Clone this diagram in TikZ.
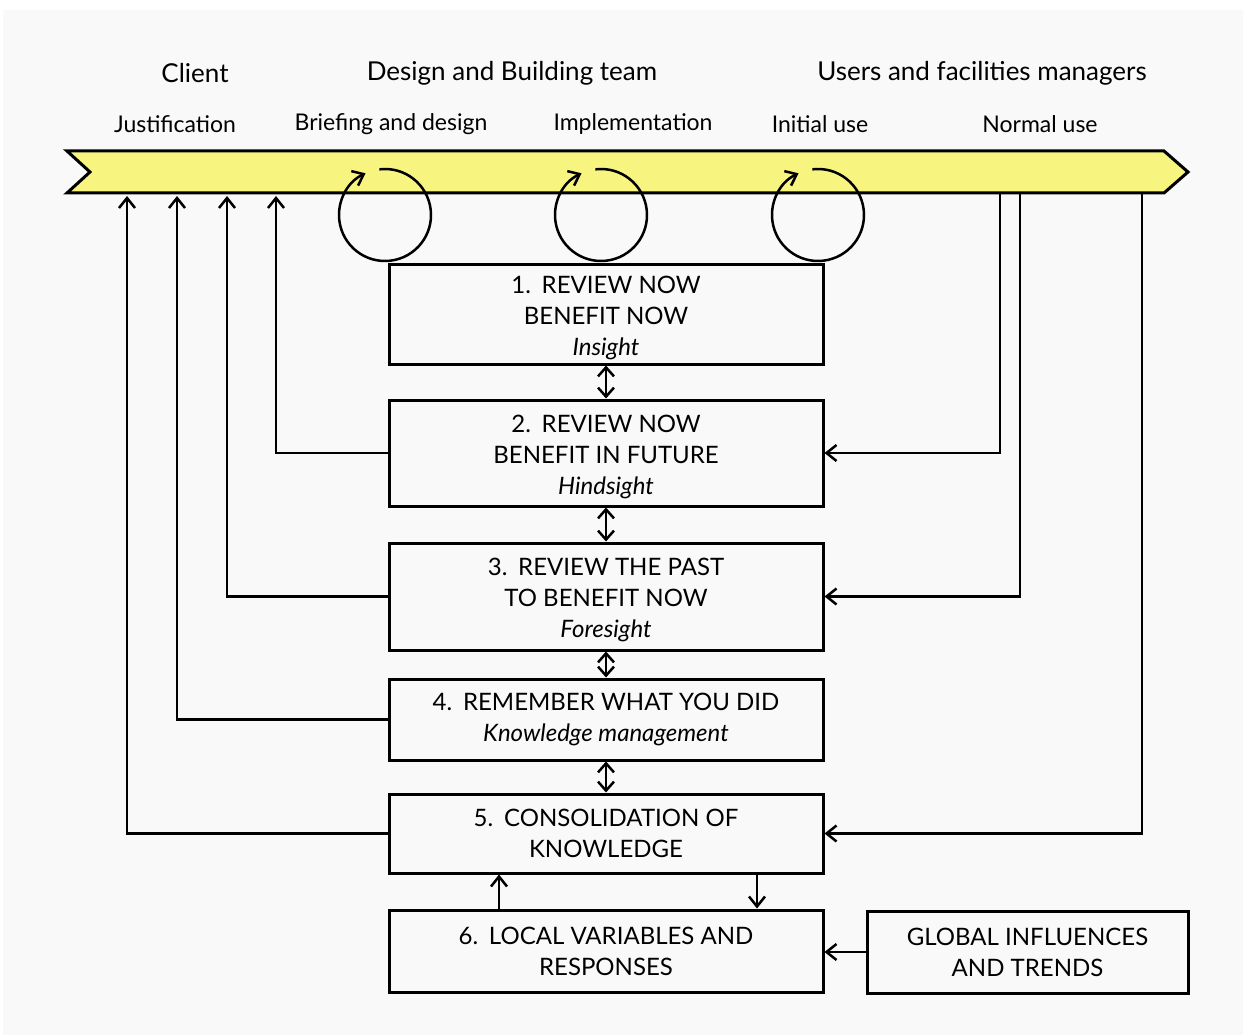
\documentclass[tikz,border=0pt]{standalone}
\usepackage{fontspec}
\setmainfont{Lato}
\usetikzlibrary{arrows.meta}
\definecolor{band}{RGB}{247,245,128}
\definecolor{paper}{RGB}{249,249,249}
\newcommand{\topstrut}{\rule{0pt}{25pt}}
\tikzset{box/.style = {draw, line width=3pt, minimum width=434pt, minimum height=#1, align=center, inner sep=0, font=\fontsize{24}{31}\selectfont}}
\tikzset{arr/.style = {line width=2.5pt, -{Straight Barb[length=10pt, width=16pt]}}}
\tikzset{dbl/.style = {line width=2.5pt, {Straight Barb[length=9pt, width=16pt]}-{Straight Barb[length=9pt, width=16pt]}}}
\tikzset{head/.style = {font=\fontsize{26}{30}\selectfont}}
\tikzset{phase/.style = {font=\fontsize{23}{27}\selectfont}}

\begin{document}
\begin{tikzpicture}[x=1pt, y=-1pt]
    \fill [white] (0, 0) rectangle (1243, 1035);
    \fill [paper] (3, 10) rectangle (1243, 1035);
    \useasboundingbox (0, 0) rectangle (1243, 1035);

    % who and when
    \node [head] (client) at (195, 73) {Client};
    \node [head] (team) at (512, 73) {Design and Building team};
    \node [head] (users) at (982, 73) {Users and facilities managers};

    \node [phase] (justif) at (175, 124) {Justification};
    \node [phase] (brief) at (391, 124) {Briefing and design};
    \node [phase] (impl) at (633, 124) {Implementation};
    \node [phase] (initial) at (820, 124) {Initial use};
    \node [phase] (normal) at (1040, 124) {Normal use};

    % time line
    \draw [fill=band, line width=3pt] (67, 151) -- (1164, 151) -- (1188, 172) -- (1164, 193) -- (67, 193) -- (90, 172) -- cycle;

    \foreach \cx in {385, 601, 818} {
      \coordinate (c) at (\cx, 215);
      \draw [arr] ([shift={(97:46pt)}]c) arc[start angle=97, end angle=-245, radius=46pt];
    }

    % the six stages
    \node [box=99pt] (b1) at (606, 314.5) {\topstrut 1.\hspace{0.45em}REVIEW NOW\\BENEFIT NOW\\\textit{Insight}};
    \node [box=106pt] (b2) at (606, 453) {\topstrut 2.\hspace{0.45em}REVIEW NOW\\BENEFIT IN FUTURE\\\textit{Hindsight}};
    \node [box=107pt] (b3) at (606, 596.5) {\topstrut 3.\hspace{0.45em}REVIEW THE PAST\\TO BENEFIT NOW\\\textit{Foresight}};
    \node [box=81pt] (b4) at (606, 719.5) {4.\hspace{0.45em}REMEMBER WHAT YOU DID\\\textit{Knowledge management}};
    \node [box=79pt] (b5) at (606, 833.5) {5.\hspace{0.45em}CONSOLIDATION OF\\KNOWLEDGE};
    \node [box=82pt] (b6) at (606, 951) {6.\hspace{0.45em}LOCAL VARIABLES AND\\RESPONSES};
    \node [box=82pt, minimum width=321pt] (glob) at (1027.5, 952) {GLOBAL INFLUENCES\\AND TRENDS};

    \draw [dbl] (b1.south) -- (b2.north);
    \draw [dbl] (b2.south) -- (b3.north);
    \draw [dbl] (b3.south) -- (b4.north);
    \draw [dbl] (b4.south) -- (b5.north);
    \draw [arr] ([xshift=-107pt]b6.north) -- ([xshift=-107pt]b5.south);
    \draw [arr] ([xshift=151pt]b5.south) -- ([xshift=151pt]b6.north);
    \draw [arr] (glob.west) -- (glob.west -| b6.east);

    % feedback to the time line
    \coordinate (t2) at (276, 196);
    \coordinate (t3) at (227, 196);
    \coordinate (t4) at (177, 196);
    \coordinate (t5) at (127, 196);
    \draw [arr] (b2.west) -| (t2);
    \draw [arr] (b3.west) -| (t3);
    \draw [arr] (b4.west) -| (t4);
    \draw [arr] (b5.west) -| (t5);

    \coordinate (s2) at (1000, 194);
    \coordinate (s3) at (1020, 194);
    \coordinate (s5) at (1142, 194);
    \draw [arr] (s2) |- (b2.east);
    \draw [arr] (s3) |- (b3.east);
    \draw [arr] (s5) |- (b5.east);
\end{tikzpicture}
\end{document}
